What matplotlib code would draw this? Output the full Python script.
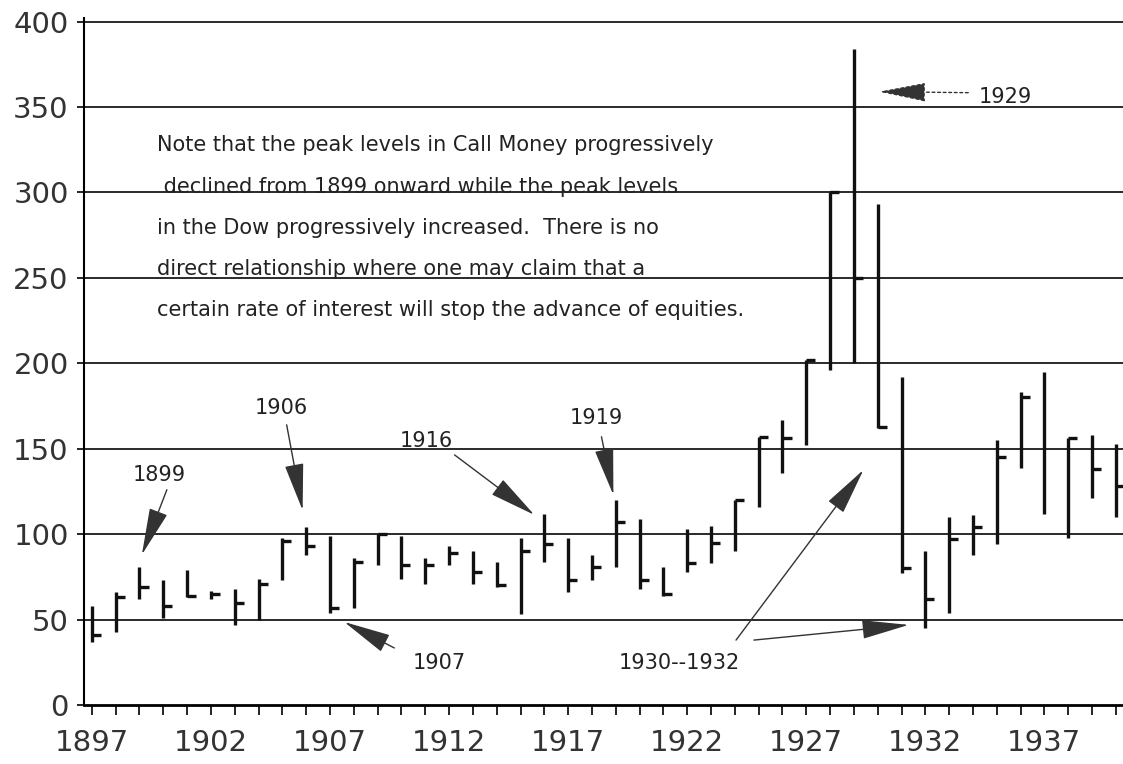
import numpy as np
import matplotlib
matplotlib.use("Agg")
import matplotlib.pyplot as plt

# yearly Dow ranges
years = np.arange(1897, 1941)
highs = [58, 66, 81, 73, 79, 67, 68, 74, 98, 104, 99, 86, 100, 99, 86, 93, 90, 84, 98, 112,
         98, 88, 120, 109, 81, 103, 105, 120, 157, 167, 202, 300, 384, 293, 192, 90, 110, 111,
         155, 183, 195, 156, 158, 153]
lows = [37, 43, 62, 51, 63, 62, 47, 50, 73, 88, 54, 57, 82, 74, 71, 82, 71, 69, 53, 84,
        66, 73, 81, 68, 64, 78, 83, 90, 116, 136, 152, 196, 200, 162, 77, 45, 54, 88,
        94, 139, 112, 98, 121, 110]
closes = [41, 63, 69, 58, 64, 65, 60, 71, 96, 93, 57, 84, 100, 82, 82, 89, 78, 70, 90, 94,
          73, 81, 107, 73, 65, 83, 95, 120, 157, 156, 202, 300, 250, 163, 80, 62, 97, 104,
          145, 180, np.nan, 156, 138, 128]

y_ticks = [0, 50, 100, 150, 200, 250, 300, 350, 400]
x_labels = [1897, 1902, 1907, 1912, 1917, 1922, 1927, 1932, 1937]

note_lines = [
    "Note that the peak levels in Call Money progressively",
    " declined from 1899 onward while the peak levels",
    "in the Dow progressively increased.  There is no",
    "direct relationship where one may claim that a",
    "certain rate of interest will stop the advance of equities.",
]

# (label, label position, arrow tail, arrow tip)
callouts = [
    ("1899", (1899.85, 134.7), [((1900.15, 126), (1899.1, 88))]),
    ("1906", (1904.97, 174), [((1905.18, 164), (1905.85, 114))]),
    ("1916", (1911.05, 154.6), [((1912.23, 146.4), (1915.58, 111.3))]),
    ("1919", (1918.2, 168), [((1918.4, 157), (1918.9, 123))]),
    ("1907", (1911.6, 24.6), [((1909.7, 33.4), (1907.6, 48.6))]),
    ("1930--1932", (1921.66, 24.6), [((1924.05, 38), (1929.4, 137.6)),
                                     ((1924.8, 38), (1931.3, 46.9))]),
]

fig = plt.figure(figsize=(11.23, 7.64), dpi=100)
ax = fig.add_axes([0.0748, 0.0772, 0.9252, 0.899])

ax.set_xlim(1896.67, 1940.3)
ax.set_ylim(0, 402)

for y in y_ticks[1:]:
    ax.axhline(y, color="#2a2a2a", lw=1.4, zorder=1)

ax.vlines(years, lows, highs, color="#111111", lw=2.4, zorder=3)
ax.hlines(closes, years, years + 0.38, color="#111111", lw=2.4, zorder=3)

for spine in ["top", "right"]:
    ax.spines[spine].set_visible(False)
ax.spines["left"].set_linewidth(1.5)
ax.spines["bottom"].set_linewidth(2)

ax.set_yticks(y_ticks)
ax.set_yticklabels([str(v) for v in y_ticks], fontsize=21, color="#333333")
ax.tick_params(axis="y", length=5, width=1.2, pad=6)

ax.set_xticks(x_labels)
ax.set_xticklabels([str(v) for v in x_labels], fontsize=21, color="#333333")
ax.set_xticks(years, minor=True)
ax.tick_params(axis="x", which="both", length=7, width=1.2, direction="out", pad=10)

note_y = [328, 303, 279, 255, 231]
for line, ny in zip(note_lines, note_y):
    ax.text(1899.73, ny, line, fontsize=15, va="center", ha="left", color="#222222")

arrow_kw = dict(arrowstyle="-|>,head_length=3.0,head_width=0.6", mutation_scale=10,
                lw=1, color="#333333", facecolor="#444444", shrinkA=0, shrinkB=0)

for label, pos, arrows in callouts:
    ax.text(pos[0], pos[1], label, fontsize=15, ha="center", va="center", color="#222222")
    for tail, tip in arrows:
        ax.annotate("", xy=tip, xytext=tail, arrowprops=arrow_kw)

# 1929 call-out with a dotted tail
ax.text(1934.25, 356, "1929", fontsize=15, ha="left", va="center", color="#222222")
ax.annotate("", xy=(1930.05, 359), xytext=(1933.8, 358.4),
            arrowprops=dict(arrow_kw, linestyle=(0, (2, 2))))

fig.savefig("out.png", dpi=100)
